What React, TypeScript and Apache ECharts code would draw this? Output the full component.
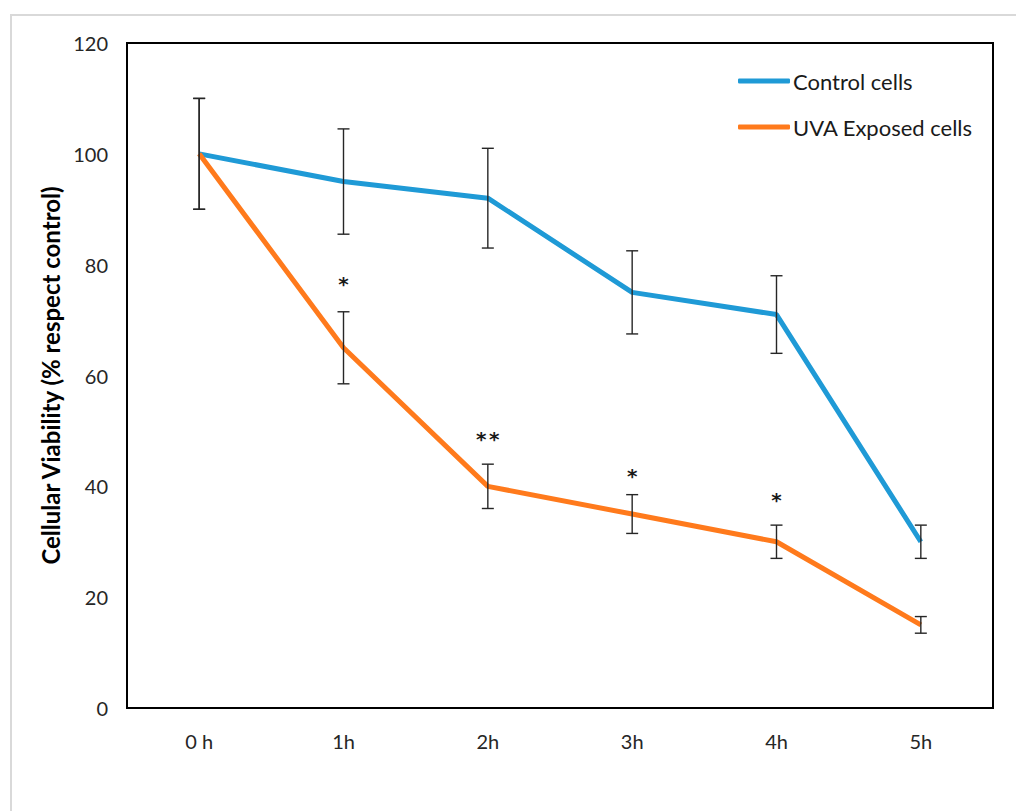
import React, { useEffect, useRef } from "react";
import * as echarts from "echarts";

const categories = ["0 h", "1h", "2h", "3h", "4h", "5h"];
const controlValues = [100, 95, 92, 75, 71, 30];
const controlLow = [90, 85.5, 83, 67.5, 64, 27];
const controlHigh = [110, 104.5, 101, 82.5, 78, 33];
const uvaValues = [100, 65, 40, 35, 30, 15];
const uvaLow = [90, 58.5, 36, 31.5, 27, 13.5];
const uvaHigh = [110, 71.5, 44, 38.5, 33, 16.5];
const significance = ["", "*", "**", "*", "*", ""];
const significanceLevel = [null, 77.2, 49.3, 42.6, 38.3, null];
const yTicks = [0, 20, 40, 60, 80, 100, 120];

const FONT = "Lato";
const BLUE = "#1f9ad6";
const ORANGE = "#ff7a1c";

function errorBarItem(params: any, api: any) {
  const x = api.value(0);
  const lo = api.coord([x, api.value(1)]);
  const hi = api.coord([x, api.value(2)]);
  const cap = 6;
  const style = { stroke: "#262626", lineWidth: 1.4 };
  return {
    type: "group",
    children: [
      { type: "line", shape: { x1: lo[0], y1: lo[1], x2: hi[0], y2: hi[1] }, style },
      { type: "line", shape: { x1: lo[0] - cap, y1: lo[1], x2: lo[0] + cap, y2: lo[1] }, style },
      { type: "line", shape: { x1: hi[0] - cap, y1: hi[1], x2: hi[0] + cap, y2: hi[1] }, style },
    ],
  };
}

export default function App() {
  const ref = useRef<HTMLDivElement>(null);
  useEffect(() => {
    document.body.style.margin = "0";
    const chart = echarts.init(ref.current!, null, { renderer: "svg" });
    const errCtrl = categories.map((_, i) => [i, controlLow[i], controlHigh[i]]);
    const errUva = categories.map((_, i) => [i, uvaLow[i], uvaHigh[i]]);
    const stars = categories
      .map((_, i) => [i, significanceLevel[i], significance[i]])
      .filter((d) => d[1] !== null);
    chart.setOption({
      animation: false,
      textStyle: { fontFamily: FONT },
      graphic: [
        {
          type: "rect",
          shape: { x: 11, y: 15, width: 1100, height: 900 },
          style: { fill: "none", stroke: "#d9d9d9", lineWidth: 2 },
          silent: true,
        },
      ],
      grid: {
        left: 127,
        top: 43,
        right: 23,
        bottom: 103,
        show: true,
        borderColor: "#000",
        borderWidth: 2,
        containLabel: false,
      },
      legend: {
        orient: "vertical",
        left: 733,
        top: 64,
        itemWidth: 52,
        itemHeight: 5,
        itemGap: 22,
        icon: "roundRect",
        textStyle: { fontFamily: FONT, fontSize: 22, color: "#1a1a1a", lineHeight: 24, padding: [0, 0, 0, -2] },
        data: ["Control cells", "UVA Exposed cells"],
      },
      xAxis: {
        type: "category",
        data: categories,
        boundaryGap: true,
        axisLine: { lineStyle: { color: "#000", width: 2 } },
        axisTick: { show: false },
        axisLabel: { fontFamily: FONT, fontSize: 20, color: "#262626", margin: 23 },
      },
      yAxis: {
        type: "value",
        min: yTicks[0],
        max: yTicks[yTicks.length - 1],
        interval: 20,
        splitLine: { show: false },
        axisLine: { show: true, lineStyle: { color: "#000", width: 2 } },
        axisTick: { show: false },
        axisLabel: { fontFamily: FONT, fontSize: 20, color: "#262626", margin: 19 },
        name: "Cellular Viability (% respect control)",
        nameLocation: "middle",
        nameGap: 62,
        nameRotate: 90,
        nameTextStyle: { fontFamily: FONT, fontSize: 24, fontWeight: "bold", color: "#000" },
      },
      series: [
        {
          name: "Control cells",
          type: "line",
          data: controlValues,
          showSymbol: false,
          symbol: "none",
          lineStyle: { color: BLUE, width: 5 },
          itemStyle: { color: BLUE },
          z: 2,
        },
        {
          name: "UVA Exposed cells",
          type: "line",
          data: uvaValues,
          showSymbol: false,
          symbol: "none",
          lineStyle: { color: ORANGE, width: 5 },
          itemStyle: { color: ORANGE },
          z: 3,
        },
        {
          type: "custom",
          renderItem: errorBarItem,
          data: errCtrl,
          z: 5,
          silent: true,
        },
        {
          type: "custom",
          renderItem: errorBarItem,
          data: errUva,
          z: 5,
          silent: true,
        },
        {
          type: "custom",
          data: stars,
          z: 6,
          silent: true,
          renderItem: (params: any, api: any) => {
            const p = api.coord([api.value(0), api.value(1)]);
            const d = stars[params.dataIndex];
            const chars = String(d[2]).split("");
            const step = 13;
            const x0 = p[0] - ((chars.length - 1) * step) / 2;
            return {
              type: "group",
              children: chars.map((c, k) => ({
                type: "text",
                x: x0 + k * step,
                y: p[1] + 4,
                style: {
                  text: c,
                  fontFamily: "DejaVu Sans",
                  fontWeight: "bold",
                  fontSize: 20,
                  fill: "#1a1a1a",
                  align: "center",
                  verticalAlign: "middle",
                },
              })),
            };
          },
        },
      ],
    });
    return () => chart.dispose();
  }, []);
  return <div ref={ref} style={{ width: 1016, height: 811 }} />;
}
